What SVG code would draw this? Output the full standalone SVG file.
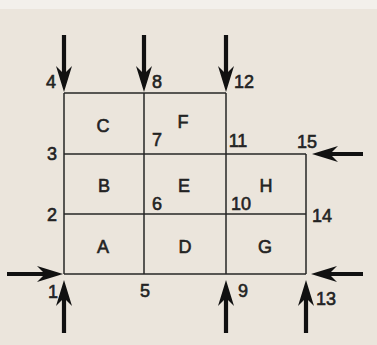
<svg xmlns="http://www.w3.org/2000/svg" width="377" height="345" viewBox="0 0 377 345">
<style>
.grid line{stroke:#262626;stroke-width:1.5;fill:none}
.arr{stroke:#111;stroke-width:4.2;fill:none;marker-end:url(#head)}
text{font-family:"Liberation Sans",Arial,sans-serif;fill:#232323;stroke:#232323;stroke-width:0.6;text-anchor:middle}
.lt{font-size:18px}
.nm{font-size:18px}
</style>
<defs>
<marker id="head" markerUnits="userSpaceOnUse" markerWidth="32" markerHeight="22" viewBox="-11 -11 32 22" refX="0" refY="0" orient="auto" overflow="visible">
<path d="M17,0 L-9,-8 L-1,0 L-9,8 Z" fill="#111"/>
</marker>
</defs>
<rect width="377" height="345" fill="#ebe5dc"/>
<rect width="377" height="9" fill="#f3f0eb"/>
<g class="grid" id="grid">
<line x1="64" y1="93" x2="226" y2="93"/>
<line x1="64" y1="154" x2="306" y2="154"/>
<line x1="64" y1="214" x2="306" y2="214"/>
<line x1="64" y1="274" x2="306" y2="274"/>
<line x1="64" y1="93" x2="64" y2="274"/>
<line x1="144" y1="93" x2="144" y2="274"/>
<line x1="226" y1="93" x2="226" y2="274"/>
<line x1="306" y1="154" x2="306" y2="274"/>
</g>
<g id="connectors">
<line class="arr" x1="64" y1="35" x2="64" y2="75"/>
<line class="arr" x1="144" y1="35" x2="144" y2="75"/>
<line class="arr" x1="226" y1="35" x2="226" y2="75"/>
<line class="arr" x1="64" y1="333" x2="64" y2="297"/>
<line class="arr" x1="226" y1="333" x2="226" y2="297"/>
<line class="arr" x1="306" y1="333" x2="306" y2="297"/>
<line class="arr" x1="7" y1="274" x2="46" y2="274"/>
<line class="arr" x1="363" y1="154" x2="329" y2="154"/>
<line class="arr" x1="363" y1="274" x2="328" y2="274"/>
</g>
<g id="regions">
<text class="lt" x="103" y="132">C</text>
<text class="lt" x="183" y="128">F</text>
<text class="lt" x="104" y="192">B</text>
<text class="lt" x="184" y="192">E</text>
<text class="lt" x="266" y="192">H</text>
<text class="lt" x="103" y="253">A</text>
<text class="lt" x="185" y="253">D</text>
<text class="lt" x="265" y="253">G</text>
</g>
<g id="nodes">
<text class="nm" x="51" y="88">4</text>
<text class="nm" x="157" y="88">8</text>
<text class="nm" x="244" y="88">12</text>
<text class="nm" x="157" y="146">7</text>
<text class="nm" x="238" y="147">11</text>
<text class="nm" x="307" y="148">15</text>
<text class="nm" x="52" y="160">3</text>
<text class="nm" x="157" y="210">6</text>
<text class="nm" x="241" y="210">10</text>
<text class="nm" x="52" y="221">2</text>
<text class="nm" x="322" y="222">14</text>
<text class="nm" x="53" y="298">1</text>
<text class="nm" x="145" y="297">5</text>
<text class="nm" x="243" y="297">9</text>
<text class="nm" x="326" y="305">13</text>
</g>
</svg>
